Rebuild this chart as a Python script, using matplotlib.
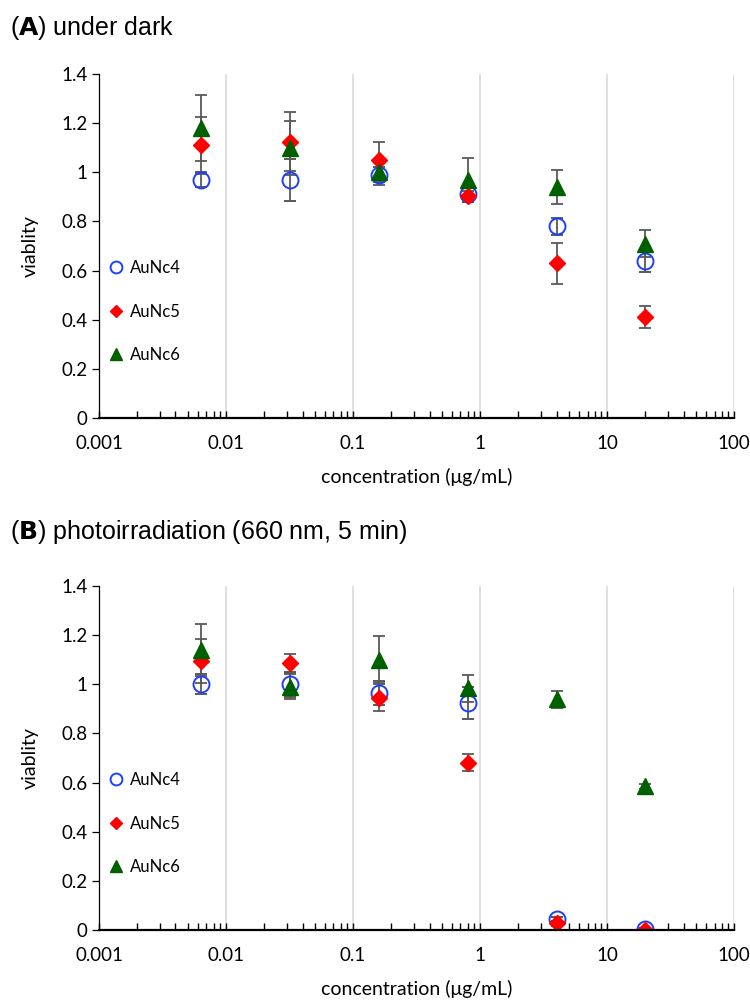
import matplotlib
matplotlib.use("Agg")
import matplotlib.pyplot as plt
from matplotlib.lines import Line2D
from matplotlib.ticker import LogLocator, FixedLocator, FuncFormatter

# ---------------------------------------------------------------- data
conc = [0.0064, 0.032, 0.16, 0.8, 4.0, 20.0]

# (A) under dark
a_nc4 = [0.97, 0.97, 0.99, 0.91, 0.78, 0.64]
a_nc4_err = [0.03, 0.085, 0.03, 0.03, 0.035, 0.045]
a_nc5 = [1.11, 1.125, 1.05, 0.905, 0.63, 0.41]
a_nc5_err = [0.115, 0.12, 0.075, 0.02, 0.083, 0.045]
a_nc6 = [1.18, 1.10, 1.00, 0.97, 0.94, 0.71]
a_nc6_err = [0.135, 0.11, 0.05, 0.09, 0.07, 0.055]

# (B) photoirradiation
b_nc4 = [1.00, 1.00, 0.965, 0.925, 0.045, 0.003]
b_nc4_err = [0.04, 0.05, 0.05, 0.065, 0.01, 0.005]
b_nc5 = [1.095, 1.085, 0.945, 0.681, 0.027, 0.0]
b_nc5_err = [0.09, 0.04, 0.055, 0.035, 0.01, 0.005]
b_nc6 = [1.14, 0.99, 1.10, 0.983, 0.939, 0.585]
b_nc6_err = [0.105, 0.05, 0.095, 0.055, 0.035, 0.01]

labels = ["AuNc4", "AuNc5", "AuNc6"]
yticks = [0, 0.2, 0.4, 0.6, 0.8, 1.0, 1.2, 1.4]
xticks = [0.001, 0.01, 0.1, 1, 10, 100]

plt.rcParams["font.family"] = ["Lato", "DejaVu Sans"]

fig = plt.figure(figsize=(7.5, 10.01), dpi=100)
ax_a = fig.add_axes([0.132, 0.5824, 0.847, 0.3436])
ax_b = fig.add_axes([0.132, 0.0709, 0.847, 0.3437])

styles = [
    dict(marker="o", mfc="none", mec="#1f3fff", mew=1.4, ms=11.5),
    dict(marker="D", mfc="#ff0000", mec="#ff0000", ms=8),
    dict(marker="^", mfc="#006000", mec="#006000", ms=11),
]
leg_sizes = [8.5, 6.5, 8.5]


def num_fmt(v, pos):
    return f"{v:.3f}".rstrip("0").rstrip(".")


def draw(ax, series, title_tag, title_rest, title_y):
    for (y, e), st in zip(series, styles):
        ax.errorbar(conc, y, yerr=e, ls="none", ecolor="#595959",
                    elinewidth=1.3, capsize=4, capthick=1.3, **st)
    ax.set_xscale("log")
    ax.set_xlim(0.001, 100)
    ax.set_ylim(0, 1.4)
    ax.set_yticks(yticks)
    ax.yaxis.set_major_formatter(FuncFormatter(num_fmt))
    ax.xaxis.set_major_locator(FixedLocator(xticks))
    ax.xaxis.set_minor_locator(LogLocator(base=10, subs=range(2, 10), numticks=20))
    ax.xaxis.set_major_formatter(FuncFormatter(num_fmt))
    ax.grid(axis="x", which="major", color="#d9d9d9", lw=1.2)
    ax.set_axisbelow(True)
    for s in ["top", "right"]:
        ax.spines[s].set_visible(False)
    ax.spines["bottom"].set_linewidth(1.6)
    ax.spines["left"].set_linewidth(0.9)
    ax.tick_params(axis="x", which="both", direction="in", length=5, width=1.0,
                   labelsize=13.5, pad=12)
    ax.tick_params(axis="y", direction="out", length=5, width=0.9, labelsize=13.5)
    ax.set_xlabel("concentration (\u03bcg/mL)", fontsize=14, labelpad=12)
    ax.set_ylabel("viablity", fontsize=14, labelpad=16)

    handles = []
    for st, ms in zip(styles, leg_sizes):
        h = dict(st)
        h["ms"] = ms
        handles.append(Line2D([], [], ls="none", **h))
    ax.legend(handles, labels, loc="lower left", bbox_to_anchor=(-0.002, 0.13),
              frameon=False, fontsize=12, labelspacing=1.65, handletextpad=0.35,
              handlelength=1.0, borderaxespad=0.2)
    fig.text(0.013, title_y, r"($\bf{" + title_tag + r"}$) " + title_rest,
             fontsize=18, family="Liberation Sans", va="center")


draw(ax_a, [(a_nc4, a_nc4_err), (a_nc5, a_nc5_err), (a_nc6, a_nc6_err)],
     "A", "under dark", 0.972)
draw(ax_b, [(b_nc4, b_nc4_err), (b_nc5, b_nc5_err), (b_nc6, b_nc6_err)],
     "B", "photoirradiation (660 nm, 5 min)", 0.4685)

fig.savefig("out.png", dpi=100)
